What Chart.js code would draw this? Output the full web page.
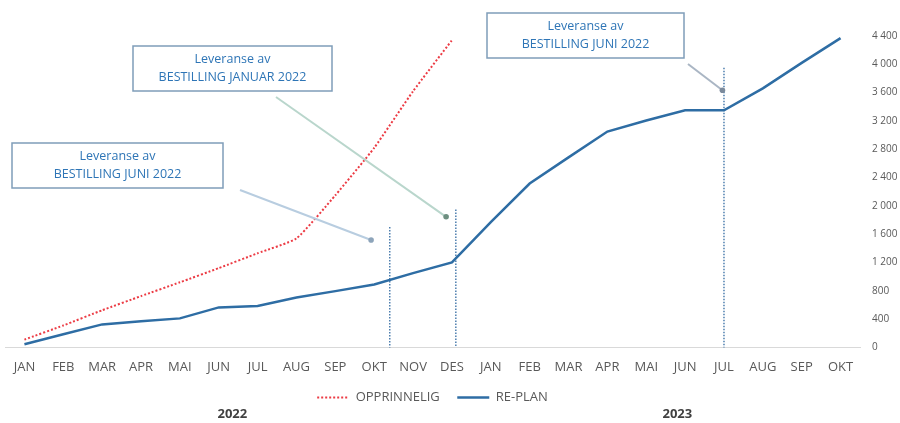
<!DOCTYPE html>
<html><head><meta charset="utf-8">
<script src="https://cdn.jsdelivr.net/npm/chart.js@4.4.1/dist/chart.umd.min.js"></script>
<style>html,body{margin:0;padding:0;background:#fff}#wrap{width:900px;height:423px;position:relative}</style>
</head><body><div id="wrap"><canvas id="c"></canvas></div>
<script>
const months = ['JAN','FEB','MAR','APR','MAI','JUN','JUL','AUG','SEP','OKT','NOV','DES','JAN','FEB','MAR','APR','MAI','JUN','JUL','AUG','SEP','OKT'];
const years = ['2022','2023'];
const yearCenters = [5.35, 16.8];
const opprinnelig = [110,310,525,725,920,1120,1330,1540,2150,2820,3620,4340];
const replan = [45,185,325,370,410,565,585,705,795,890,1050,1200,1770,2315,2685,3050,3205,3350,3350,3660,4020,4370];
const yMax = 4400, yStep = 400;
const milestoneX = [9.4, 11.1, 18.0];
const milestoneTop = [1700, 1950, 3950];
const calloutText = [
  ['Leveranse av','BESTILLING JUNI 2022'],
  ['Leveranse av','BESTILLING JANUAR 2022'],
  ['Leveranse av','BESTILLING JUNI 2022']
];
const calloutTipX = [8.92, 10.85, 17.96];
const calloutTipY = [1518, 1845, 3633];

const FONT = "'Open Sans', 'DejaVu Sans', sans-serif";
const TXT = '#595959';

// layout of callout boxes (pixels)
const boxes = [
  {x:12, y:143, w:211, h:45, ax:240, ay:190, col:'#b8cde0', dot:'#8da4ba'},
  {x:133, y:46, w:199, h:45, ax:276, ay:97, col:'#b9d6cc', dot:'#6d8f80'},
  {x:487, y:13, w:197, h:45, ax:688, ay:64, col:'#aab6c4', dot:'#7b8a9c'}
];

const annot = {
  id: 'annot',
  beforeDatasetsDraw(chart) {
    const {ctx, scales:{x, y}} = chart;
    ctx.save();
    ctx.strokeStyle = '#4d7eae';
    ctx.lineWidth = 1.5;
    ctx.setLineDash([1.5, 1.5]);
    milestoneX.forEach((mx, i) => {
      const px = x.getPixelForValue(mx);
      ctx.beginPath();
      ctx.moveTo(px, y.getPixelForValue(milestoneTop[i]));
      ctx.lineTo(px, y.getPixelForValue(0));
      ctx.stroke();
    });
    ctx.restore();
  },
  afterDraw(chart) {
    const {ctx, scales:{x, y}} = chart;
    ctx.save();
    boxes.forEach((b, i) => {
      const tx = x.getPixelForValue(calloutTipX[i]);
      const ty = y.getPixelForValue(calloutTipY[i]);
      ctx.strokeStyle = b.col; ctx.lineWidth = 2; ctx.setLineDash([]);
      ctx.beginPath(); ctx.moveTo(b.ax, b.ay); ctx.lineTo(tx, ty); ctx.stroke();
      ctx.fillStyle = b.dot;
      ctx.beginPath(); ctx.arc(tx, ty, 2.8, 0, Math.PI*2); ctx.fill();
    });
    boxes.forEach((b, i) => {
      ctx.fillStyle = '#ffffff';
      ctx.fillRect(b.x, b.y, b.w, b.h);
      ctx.strokeStyle = '#7f9db9'; ctx.lineWidth = 1.5;
      ctx.strokeRect(b.x, b.y, b.w, b.h);
      ctx.fillStyle = '#2e75b6';
      ctx.font = "12.5px " + FONT;
      ctx.textAlign = 'center'; ctx.textBaseline = 'middle';
      const cx = b.x + b.w/2, cy = b.y + b.h/2;
      ctx.fillText(calloutText[i][0], cx, cy - 9);
      ctx.fillText(calloutText[i][1], cx, cy + 9);
    });
    ctx.fillStyle = '#404040';
    ctx.font = "bold 13px " + FONT;
    ctx.textAlign = 'center'; ctx.textBaseline = 'middle';
    years.forEach((yr, i) => {
      ctx.fillText(yr, x.getPixelForValue(yearCenters[i]), 414);
    });
    ctx.restore();
  }
};

new Chart(document.getElementById('c'), {
  type: 'line',
  data: {
    labels: months,
    datasets: [
      {label: 'OPPRINNELIG', data: opprinnelig, borderColor: '#ec3b44', backgroundColor: '#ec3b44',
       borderWidth: 2, borderDash: [2, 2], pointRadius: 0, tension: 0.15, fill: false},
      {label: 'RE-PLAN', data: replan, borderColor: '#2e6da4', backgroundColor: '#2e6da4',
       borderWidth: 2.5, pointRadius: 0, tension: 0, fill: false}
    ]
  },
  options: {
    responsive: true, maintainAspectRatio: false, animation: false,
    layout: {padding: {top: 36, left: 5, right: 0, bottom: 9}},
    plugins: {
      tooltip: {enabled: false},
      legend: {
        position: 'bottom', fullSize: false,
        labels: {usePointStyle: true, pointStyle: 'line', pointStyleWidth: 32, boxHeight: 8,
                 padding: 4, color: TXT, font: {family: FONT, size: 13},
                 generateLabels: (chart) => {
                   const items = Chart.defaults.plugins.legend.labels.generateLabels(chart);
                   items.forEach((it, i) => {
                     const ds = chart.data.datasets[it.datasetIndex];
                     it.lineDash = ds.borderDash || [];
                     it.lineWidth = ds.borderWidth;
                     it.strokeStyle = ds.borderColor;
                     if (i < items.length - 1) it.text = it.text + '    ';
                   });
                   return items;
                 }}
      }
    },
    scales: {
      x: {
        offset: true,
        grid: {display: false, drawTicks: false},
        border: {display: true, color: '#d9d9d9', width: 1},
        ticks: {color: TXT, font: {family: FONT, size: 13}, padding: 12, maxRotation: 0, autoSkip: false}
      },
      y: {
        position: 'right', min: 0, max: yMax,
        grid: {display: false, drawTicks: false},
        border: {display: false},
        afterFit: s => { s.width = 40; },
        ticks: {stepSize: yStep, color: TXT, font: {family: FONT, size: 10}, padding: 12,
                callback: v => v.toLocaleString('en-US').replace(/,/g, ' ')}
      }
    }
  },
  plugins: [annot]
});
</script></body></html>
